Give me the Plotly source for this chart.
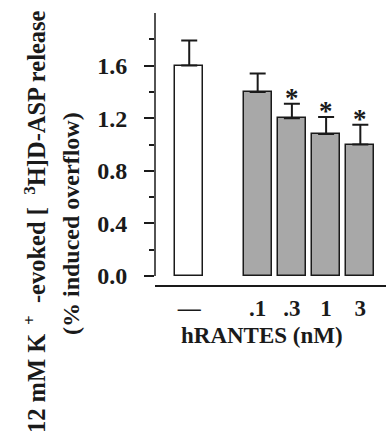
import plotly.graph_objects as go

# Data
categories = ["—", ".1", ".3", "1", "3"]
positions = [0, 2, 3, 4, 5]
means = [1.60, 1.40, 1.20, 1.08, 1.00]
sem = [0.19, 0.14, 0.11, 0.13, 0.15]
significant = [False, False, True, True, True]
y_tick_vals = [0.0, 0.4, 0.8, 1.2, 1.6]
y_tick_text = ["0.0", "0.4", "0.8", "1.2", "1.6"]
y_minor_vals = [0.2, 0.6, 1.0, 1.4, 1.8]

W, H = 386, 437
L, R, T, B = 155, 0, 13, 152
PW, PH = W - L - R, H - T - B

def px_x(px):
    return (px - L) / PW

def px_y(py):
    return (H - B - py) / PH

serif = "Liberation Serif, Times New Roman, serif"
ink = "#1a1a1a"
fills = ["white", "#a8a8a8", "#a8a8a8", "#a8a8a8", "#a8a8a8"]

fig = go.Figure()
fig.add_trace(go.Bar(
    x=positions, y=means, width=0.82,
    marker=dict(color=fills, line=dict(color=ink, width=1.5)),
    error_y=dict(type="data", array=sem, arrayminus=[0] * len(sem), symmetric=False,
                 width=8, thickness=2, color=ink),
    showlegend=False, hoverinfo="skip",
))

annotations = []
for p, m, s, sig in zip(positions, means, sem, significant):
    if sig:
        annotations.append(dict(x=p, y=m + s, xref="x", yref="y", text="*", showarrow=False,
                                yanchor="bottom", yshift=-11,
                                font=dict(family=serif, size=27, color=ink, weight="bold")))

annotations.append(dict(x=px_x(262), y=px_y(335), xref="paper", yref="paper",
                        text="hRANTES (nM)", showarrow=False, xanchor="center", yanchor="middle",
                        font=dict(family=serif, size=23, color=ink, weight="bold")))
annotations.append(dict(x=px_x(35), y=px_y(222), xref="paper", yref="paper", textangle=-90,
                        text="12 mM K<sup>\u00a0\u00a0+</sup>\u00a0\u00a0-evoked [\u00a0\u00a0<sup>3</sup>H]D-ASP release",
                        showarrow=False, xanchor="center", yanchor="middle",
                        font=dict(family=serif, size=24.5, color=ink, weight="bold")))
annotations.append(dict(x=px_x(71), y=px_y(224), xref="paper", yref="paper", textangle=-90,
                        text="(% induced overflow)",
                        showarrow=False, xanchor="center", yanchor="middle",
                        font=dict(family=serif, size=24, color=ink, weight="bold")))

fig.update_layout(
    width=W, height=H,
    margin=dict(l=L, r=R, t=T, b=B),
    paper_bgcolor="white", plot_bgcolor="white",
    bargap=0,
    annotations=annotations,
    shapes=[dict(type="line", xref="paper", yref="y", x0=0, x1=0, y0=0, y1=2.0,
                 line=dict(color=ink, width=1.5))],
    xaxis=dict(range=[-1.0, 5.75], tickvals=positions, ticktext=categories,
               showline=True, linecolor=ink, linewidth=1.5, ticks="", showgrid=False,
               zeroline=False, ticklabelstandoff=2,
               tickfont=dict(family=serif, size=23, color=ink, weight="bold")),
    yaxis=dict(range=[-0.068, 2.0], tickvals=y_tick_vals, ticktext=y_tick_text,
               showline=False, ticks="outside", ticklen=10, tickwidth=1.5, tickcolor=ink,
               minor=dict(tickmode="array", tickvals=y_minor_vals, ticks="outside", ticklen=5,
                          tickwidth=1.5, tickcolor=ink),
               showgrid=False, zeroline=False, ticklabelstandoff=12,
               tickfont=dict(family=serif, size=24, color=ink, weight="bold")),
)

fig.write_html("out.html", config={"displayModeBar": False},
               post_script="document.body.style.margin='0';")
